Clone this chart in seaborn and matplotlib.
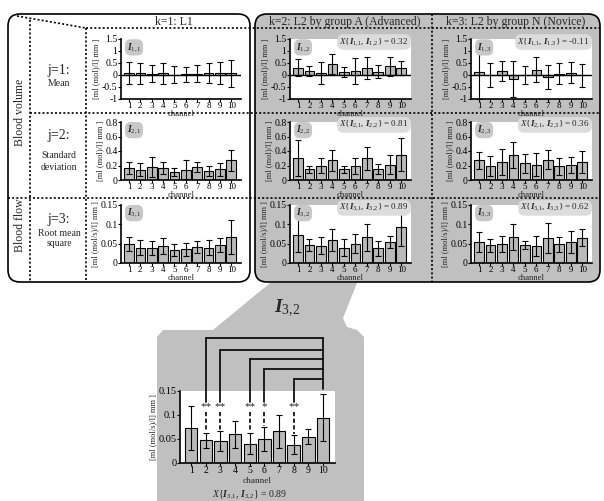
import numpy as np
import pandas as pd
import matplotlib
matplotlib.use("Agg")
import matplotlib.pyplot as plt
import seaborn as sns
from matplotlib.patches import FancyBboxPatch, Polygon

# figure size in pixels (dpi 100)
W, H = 604, 501

channels = list(range(1, 11))

# j=1: mean (blood volume), k=1..3
mean_11 = [0.08, 0.07, 0.05, 0.07, 0.02, 0.03, 0.05, 0.08, 0.08, 0.07]
sd_11 = [0.47, 0.45, 0.35, 0.45, 0.35, 0.32, 0.35, 0.40, 0.47, 0.57]
mean_12 = [0.31, 0.17, 0.08, 0.45, 0.13, 0.17, 0.28, 0.13, 0.36, 0.29]
sd_12 = [0.35, 0.20, 0.46, 0.42, 0.21, 0.53, 0.45, 0.27, 0.39, 0.30]
mean_13 = [0.14, 0.01, 0.17, -0.18, 0.01, 0.21, -0.08, 0.05, 0.10, -0.02]
sd_13 = [1.15, 0.51, 0.43, 0.75, 0.38, 0.52, 0.50, 0.44, 0.45, 0.48]

# j=2: standard deviation (blood volume)
mean_21 = [0.165, 0.14, 0.18, 0.165, 0.11, 0.14, 0.18, 0.13, 0.15, 0.27]
sd_21 = [0.085, 0.09, 0.14, 0.085, 0.06, 0.13, 0.07, 0.07, 0.09, 0.15]
mean_22 = [0.30, 0.15, 0.20, 0.27, 0.15, 0.19, 0.30, 0.15, 0.21, 0.35]
sd_22 = [0.25, 0.05, 0.11, 0.14, 0.05, 0.11, 0.16, 0.07, 0.13, 0.23]
mean_23 = [0.27, 0.19, 0.25, 0.35, 0.23, 0.21, 0.28, 0.19, 0.21, 0.25]
sd_23 = [0.12, 0.14, 0.18, 0.18, 0.13, 0.16, 0.13, 0.12, 0.11, 0.15]

# j=3: root mean square (blood flow)
mean_31 = [0.049, 0.040, 0.039, 0.044, 0.033, 0.036, 0.042, 0.040, 0.046, 0.067]
sd_31 = [0.018, 0.020, 0.018, 0.020, 0.016, 0.017, 0.015, 0.020, 0.018, 0.045]
mean_32 = [0.073, 0.047, 0.045, 0.060, 0.040, 0.050, 0.066, 0.038, 0.055, 0.094]
sd_32 = [0.045, 0.015, 0.021, 0.028, 0.022, 0.025, 0.035, 0.020, 0.015, 0.049]
mean_33 = [0.055, 0.046, 0.049, 0.068, 0.046, 0.043, 0.065, 0.048, 0.054, 0.065]
sd_33 = [0.026, 0.017, 0.020, 0.034, 0.011, 0.026, 0.039, 0.020, 0.028, 0.022]

# similarity X{I_j1, I_jk}
x_12, x_13 = 0.32, -0.11
x_22, x_23 = 0.81, 0.36
x_32, x_33 = 0.89, 0.62

# significant differences vs channel 10 in I_3,2
sig_channels = [2, 3, 5, 6, 8]
sig_marks = ['**', '**', '**', '*', '**']
sig_levels = [0.260, 0.235, 0.217, 0.196, 0.175]
ref_channel = 10

col_titles = ["k=1: L1", "k=2: L2 by group A (Advanced)", "k=3: L2 by group N (Novice)"]
ylab_vol = "[ml (mol)/l] mm ]"
ylab_flow = "[ml (mol/s)/l] mm ]"

sns.set_theme(style="ticks")
plt.rcParams['font.family'] = ['Liberation Serif', 'DejaVu Serif']
plt.rcParams['mathtext.fontset'] = 'custom'
plt.rcParams['mathtext.rm'] = 'Liberation Serif'
plt.rcParams['mathtext.it'] = 'Liberation Serif:italic'
plt.rcParams['mathtext.bf'] = 'Liberation Serif:bold:italic'

GREY = '#c0c0c0'
BAR = '#bababa'

fig = plt.figure(figsize=(W / 100, H / 100), dpi=100)

# background layer in pixel coordinates
bg = fig.add_axes([0, 0, 1, 1])
bg.set_xlim(0, W)
bg.set_ylim(H, 0)
bg.axis('off')

# funnel + panel for the enlarged plot
funnel = Polygon([(270, 283), (357, 283), (343, 318), (347, 327), (357, 330), (364, 337),
                  (364, 501), (157, 501), (157, 337), (163, 330), (213, 330)],
                 closed=True, fc=GREY, ec='none', zorder=1)
bg.add_patch(funnel)

box1 = FancyBboxPatch((8, 14), 242, 268, boxstyle="round,pad=0,rounding_size=12",
                      fc='white', ec='black', lw=1.2, zorder=2)
box2 = FancyBboxPatch((255, 14), 345, 268, boxstyle="round,pad=0,rounding_size=12",
                      fc=GREY, ec='black', lw=1.2, zorder=2)
bg.add_patch(box1)
bg.add_patch(box2)

dot = dict(color='black', lw=1.2, ls=(0, (1.2, 1.3)), zorder=3)
bg.plot([17, 86], [16, 28], **dot)
bg.plot([86, 600], [28, 28], **dot)
bg.plot([30, 30], [20, 282], **dot)
bg.plot([86, 86], [28, 282], **dot)
bg.plot([30, 600], [113, 113], **dot)
bg.plot([8, 600], [198, 198], **dot)
bg.plot([432, 432], [14, 282], **dot)

for xc, t in zip([174, 345, 516], col_titles):
    bg.text(xc, 22, t, ha='center', va='center', fontsize=8.5, zorder=4)

bg.text(20, 112, "Blood volume", rotation=90, ha='center', va='center', fontsize=8.5, zorder=4)
bg.text(20, 225, "Blood flow", rotation=90, ha='center', va='center', fontsize=8.5, zorder=4)

row_names = [("j=1:", ["Mean"]), ("j=2:", ["Standard", "deviation"]), ("j=3:", ["Root mean", "square"])]
row_text_y = [(70, [83]), (135, [155, 168]), (220, [233, 244])]
for (jl, sub), (yj, ys) in zip(row_names, row_text_y):
    bg.text(59, yj, jl, ha='center', va='center', fontsize=10, zorder=4)
    for s, yy in zip(sub, ys):
        bg.text(59, yy, s, ha='center', va='center', fontsize=7, zorder=4)

bg.text(287, 308, r"$\mathbf{I}_{\mathrm{3{,}2}}$", ha='center', va='center', fontsize=14, zorder=4)


def px_axes(x0, x1, y0, y1):
    return fig.add_axes([x0 / W, 1 - y1 / H, (x1 - x0) / W, (y1 - y0) / H])


def draw_panel(ax, means, sds, ylim, yticks, yticklabels, ylabel, fs=7, cap=2, xpad=0):
    df = pd.DataFrame({'channel': channels, 'value': means})
    sns.barplot(data=df, x='channel', y='value', color=BAR, saturation=1,
                edgecolor='black', linewidth=0.8, width=0.85, errorbar=None, ax=ax)
    ax.errorbar(np.arange(len(channels)), means, yerr=sds, fmt='none', ecolor='black',
                elinewidth=0.8, capsize=cap, capthick=0.8, zorder=3)
    if ylim[0] < 0:
        ax.axhline(0, color='black', lw=1.0, zorder=4)
    ax.set_ylim(*ylim)
    ax.set_xlim(-0.7, 9.85)
    ax.set_yticks(yticks)
    ax.set_yticklabels(yticklabels)
    ax.set_xlabel("channel", fontsize=fs - 0.8, labelpad=xpad)
    ax.set_ylabel(ylabel, fontsize=6, labelpad=1)
    ax.set_facecolor('white')
    sns.despine(ax=ax)
    for s in ['left', 'bottom']:
        ax.spines[s].set_linewidth(1.2)
        ax.spines[s].set_color('black')
    ax.tick_params(length=2, width=0.8, pad=0.5, labelsize=fs, colors='black')
    ax.tick_params(axis='x', labelsize=fs - 0.5, pad=0.3)


col_x = [(121, 241), (290, 411), (471, 592)]
row_y = [(39, 99), (122, 180), (205, 263)]

rows = [
    dict(means=[mean_11, mean_12, mean_13], sds=[sd_11, sd_12, sd_13], xs=[None, x_12, x_13],
         ylim=(-1, 1.5), yticks=[-1, -0.5, 0, 0.5, 1, 1.5],
         ytl=['-1', '-0.5', '0', '0.5', '1', '1.5'], ylab=ylab_vol),
    dict(means=[mean_21, mean_22, mean_23], sds=[sd_21, sd_22, sd_23], xs=[None, x_22, x_23],
         ylim=(0, 0.8), yticks=[0, 0.2, 0.4, 0.6, 0.8],
         ytl=['0', '0.2', '0.4', '0.6', '0.8'], ylab=ylab_vol),
    dict(means=[mean_31, mean_32, mean_33], sds=[sd_31, sd_32, sd_33], xs=[None, x_32, x_33],
         ylim=(0, 0.15), yticks=[0, 0.05, 0.1, 0.15],
         ytl=['0', '0.05', '0.1', '0.15'], ylab=ylab_flow),
]

for j, row in enumerate(rows):
    y0, y1 = row_y[j]
    for k in range(3):
        x0, x1 = col_x[k]
        ax = px_axes(x0, x1, y0, y1)
        draw_panel(ax, row['means'][k], row['sds'][k], row['ylim'], row['yticks'],
                   row['ytl'], row['ylab'])
        ax.text(0.05, 0.86, r"$\mathbf{I}_{\mathrm{%d{,}%d}}$" % (j + 1, k + 1),
                transform=ax.transAxes, fontsize=7, ha='left', va='center', zorder=6,
                bbox=dict(boxstyle='round,pad=0.2,rounding_size=0.6', fc='#c8c8c8', ec='none'))
        if row['xs'][k] is not None:
            ax.text(0.98, 0.95,
                    r"$X\{\mathbf{I}_{\mathrm{%d{,}1}},\,\mathbf{I}_{\mathrm{%d{,}%d}}\}$ = %.2f"
                    % (j + 1, j + 1, k + 1, row['xs'][k]),
                    transform=ax.transAxes, fontsize=6.5, ha='right', va='center', zorder=6,
                    bbox=dict(boxstyle='round,pad=0.25,rounding_size=0.7', fc='#dcdcdc', ec='none'))

# enlarged I_3,2
axb = px_axes(180, 335, 391, 463)
draw_panel(axb, mean_32, sd_32, (0, 0.15), [0, 0.05, 0.1, 0.15],
           ['0', '0.05', '0.1', '0.15'], ylab_flow, fs=7.5, cap=2.5, xpad=1.5)
axb.set_xlim(-0.76, 9.82)

ref = channels.index(ref_channel)
axb.plot([ref, ref], [sig_levels[0], 0.155], color='black', lw=1.2, clip_on=False, zorder=5)
for ch, mk, lev in zip(sig_channels, sig_marks, sig_levels):
    i = channels.index(ch)
    axb.plot([i, ref], [lev, lev], color='black', lw=1.2, clip_on=False, zorder=5)
    axb.plot([i, i], [lev, 0.128], color='black', lw=1.2, clip_on=False, zorder=5)
    axb.text(i, 0.117, mk, ha='center', va='center', fontsize=8, zorder=6)
    axb.plot([i, i], [0.106, mean_32[i] + sd_32[i] + 0.002], color='black', lw=1.2,
             ls=(0, (2.5, 1.5)), zorder=5)

axb.text(0.45, -0.44, r"$X\{\mathbf{I}_{\mathrm{3{,}1}},\,\mathbf{I}_{\mathrm{3{,}2}}\}$ = %.2f" % x_32,
         transform=axb.transAxes, fontsize=7, ha='center', va='center')

fig.savefig("out.png", dpi=100)
